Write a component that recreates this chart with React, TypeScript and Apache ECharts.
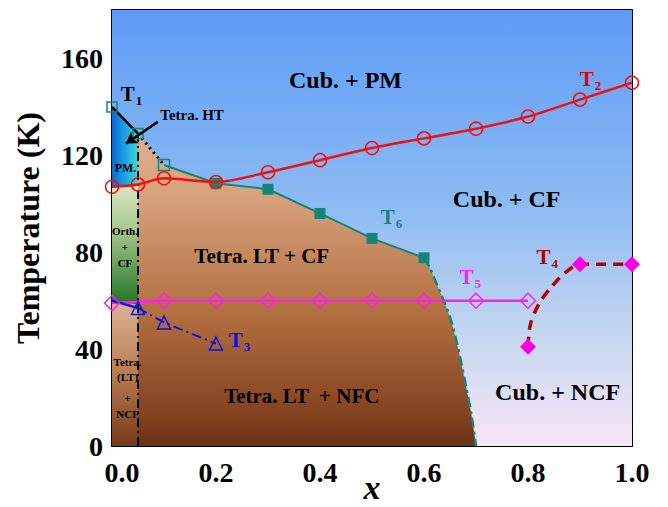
import React, { useEffect, useRef } from "react";
import * as echarts from "echarts";

const FONT = '"Liberation Serif", "Times New Roman", serif';

// ---- transition lines (x, temperature in K) ----
const t2Points: number[][] = [
  [0, 107], [0.05, 108], [0.1, 110.5], [0.2, 109], [0.3, 113], [0.4, 118],
  [0.5, 123], [0.6, 127], [0.7, 131], [0.8, 136], [0.9, 143], [1.0, 150],
];
const t1Points: number[][] = [[0, 140], [0.05, 129]];
const t1Dotted: number[][] = [[0.05, 129], [0.1, 116]];
const t6Points: number[][] = [[0.1, 116], [0.2, 108.5], [0.3, 106], [0.4, 96], [0.5, 85.7], [0.6, 77.7]];
const t6Boundary: number[][] = [
  [0.6, 77.7], [0.611, 73.7], [0.624, 67.1], [0.639, 59.5], [0.652, 51.9],
  [0.662, 43.7], [0.672, 34], [0.681, 24.4], [0.691, 13.4], [0.7, 0],
];
const t5Points: number[][] = [
  [0, 59], [0.1, 60], [0.2, 60], [0.3, 60], [0.4, 60], [0.5, 60], [0.6, 60], [0.7, 60], [0.8, 60],
];
const t3Solid: number[][] = [[0, 60], [0.05, 57]];
const t3Points: number[][] = [[0.05, 57], [0.1, 51], [0.2, 42.3]];
// measured T4 points and the traced course of the dashed curve between them
const t4Points: number[][] = [[0.8, 41], [0.9, 75], [1.0, 75]];
const t4Curve: number[][] = [
  [0.8, 41], [0.805, 50.6], [0.822, 59], [0.845, 65.7], [0.87, 71.3], [0.9, 75], [1.0, 75],
];
const structuralBoundary: number[][] = [[0.05, 0], [0.05, 129]];
const arrowLine: number[][] = [[0.088, 133.8], [0.027, 124.9]];

// ---- phase regions ----
const backgroundRegion: number[][] = [[0, 0], [1, 0], [1, 180], [0, 180]];
const tetraRegion: number[][] = [[0.05, 0], ...t1Dotted, ...t6Points.slice(1), ...t6Boundary.slice(1)];
const tetraLowRegion: number[][] = [[0, 0], [0, 59.5], [0.05, 58.5], [0.05, 0]];
const orthRegion: number[][] = [[0, 59.5], [0.05, 58.5], [0.05, 108], [0, 107]];
const pmRegion: number[][] = [[0, 107], [0.05, 108], [0.05, 129], [0, 140]];

// ---- text annotations ----
type Note = { x: number; y: number; text: string; size: number; color: string };
const notes: Note[] = [
  { x: 0.449, y: 151, text: "Cub. + PM", size: 24, color: "#000" },
  { x: 0.759, y: 101.8, text: "Cub. + CF", size: 24, color: "#000" },
  { x: 0.857, y: 22.2, text: "Cub. + NCF", size: 24, color: "#000" },
  { x: 0.288, y: 78.4, text: "Tetra. LT + CF", size: 21, color: "#000" },
  { x: 0.365, y: 20.5, text: "Tetra. LT  + NFC", size: 21, color: "#000" },
  { x: 0.154, y: 136.6, text: "Tetra. HT", size: 15, color: "#000" },
  { x: 0.026, y: 114.6, text: "PM.", size: 12, color: "#000" },
  { x: 0.025, y: 88.7, text: "Orth.", size: 11, color: "#000" },
  { x: 0.025, y: 82.3, text: "+", size: 11, color: "#000" },
  { x: 0.025, y: 75.4, text: "CF", size: 11, color: "#000" },
  { x: 0.03, y: 34.6, text: "Tetra.", size: 11, color: "#000" },
  { x: 0.03, y: 28.3, text: "(LT)", size: 11, color: "#000" },
  { x: 0.03, y: 19.7, text: "+", size: 11, color: "#000" },
  { x: 0.03, y: 13.1, text: "NCF", size: 11, color: "#000" },
];
type Label = { x: number; y: number; idx: string; color: string };
const tLabels: Label[] = [
  { x: 0.0375, y: 145.3, idx: "1", color: "#000" },
  { x: 0.92, y: 151.4, idx: "2", color: "#E00000" },
  { x: 0.245, y: 43.7, idx: "3", color: "#1010D0" },
  { x: 0.837, y: 78, idx: "4", color: "#B00000" },
  { x: 0.689, y: 69.7, idx: "5", color: "#FF20F0" },
  { x: 0.5375, y: 94.4, idx: "6", color: "#13857B" },
];

const RED = "#F01010";
const TEAL = "#13857B";
const MAGENTA = "#FF20F0";
const BLUE = "#1010E0";
const DARKRED = "#B80000";

const grad = (x2: number, y2: number, stops: [number, string][]) =>
  new echarts.graphic.LinearGradient(0, 0, x2, y2, stops.map(([offset, color]) => ({ offset, color })));

function regionSeries(name: string, pts: number[][], fill: any, z: number) {
  return {
    type: "custom",
    name,
    coordinateSystem: "cartesian2d",
    silent: true,
    z,
    data: [pts[0]],
    renderItem: (_p: any, api: any) => ({
      type: "polygon",
      shape: { points: pts.map((p) => api.coord(p)) },
      style: { fill },
    }),
  };
}

const axisCommon = {
  axisLine: { show: true, onZero: false, lineStyle: { color: "#000", width: 2 } },
  axisTick: { show: true, inside: true, length: 6, lineStyle: { color: "#000", width: 1.5 } },
  splitLine: { show: false },
};

export default function App() {
  const ref = useRef<HTMLDivElement>(null);

  useEffect(() => {
    if (!ref.current) return;
    const chart = echarts.init(ref.current, undefined, { renderer: "svg" });

    const hollow = (color: string) => ({ color: "rgba(0,0,0,0)", borderColor: color, borderWidth: 1.5 });
    const isMeasured = (p: number[]) => t4Points.some((q) => q[0] === p[0] && q[1] === p[1]);

    const option: any = {
      animation: false,
      grid: { left: 112, right: 36, top: 10, bottom: 61, containLabel: false, outerBoundsMode: "none" },
      xAxis: [
        {
          type: "value", min: 0, max: 1, interval: 0.1, position: "bottom", ...axisCommon,
          axisLabel: {
            margin: 12,
            fontSize: 28, fontWeight: "bold", fontFamily: FONT, color: "#000",
            formatter: (v: number) => {
              const k = Math.round(v * 10);
              if (k % 2) return "";
              if (k === 0) return "{z|0.0}";
              return (k / 10).toFixed(1);
            },
            rich: { z: { padding: [0, 0, 0, 20], fontSize: 28, fontWeight: "bold", fontFamily: FONT, color: "#000" } },
          },
          name: "x", nameLocation: "middle", nameGap: 24, nameMoveOverlap: false,
          nameTextStyle: { fontSize: 34, fontWeight: "bold", fontStyle: "italic", fontFamily: FONT, color: "#000" },
        },
        {
          type: "value", min: 0, max: 1, interval: 0.1, position: "top", ...axisCommon,
          axisLabel: { show: false },
        },
      ],
      yAxis: [
        {
          type: "value", min: 0, max: 180, interval: 20, position: "left", ...axisCommon,
          axisLabel: {
            margin: 9,
            fontSize: 28, fontWeight: "bold", fontFamily: FONT, color: "#000",
            formatter: (v: number) => (v % 40 === 0 ? String(v) : ""),
          },
          name: "Temperature (K)", nameLocation: "middle", nameGap: 68, nameRotate: 90,
          nameTextStyle: { fontSize: 32, fontWeight: "bold", fontFamily: FONT, color: "#000" },
        },
        {
          type: "value", min: 0, max: 180, interval: 20, position: "right", ...axisCommon,
          axisLabel: { show: false },
        },
      ],
      series: [
        regionSeries("background", backgroundRegion,
          grad(0, 1, [[0, "#5E9CF7"], [0.45, "#8DBBF3"], [0.75, "#C6D7F0"], [1, "#F8E6F6"]]), 1),
        regionSeries("tetra", tetraRegion,
          grad(0, 1, [[0, "#DDAE8C"], [0.2, "#D6A27C"], [0.57, "#B37040"], [0.9, "#834220"], [1, "#6A3216"]]), 2),
        regionSeries("tetraLow", tetraLowRegion,
          grad(0, 1, [[0, "#DCB394"], [0.5, "#B97C52"], [1, "#74391A"]]), 2),
        regionSeries("orth", orthRegion,
          grad(0, 1, [[0, "#DCE8C6"], [0.4, "#A2C588"], [1, "#237526"]]), 2),
        regionSeries("pm", pmRegion,
          grad(1, 0, [[0, "#0A68D4"], [0.5, "#1EA2E2"], [1, "#3ADCD6"]]), 2),
        {
          type: "line", name: "boundary", data: structuralBoundary, symbol: "none", z: 3,
          lineStyle: { color: "#000", width: 2, type: [9, 4, 2, 4] },
        },
        {
          type: "line", name: "T1", data: t1Points, symbol: "rect", symbolSize: 10, z: 4,
          lineStyle: { color: "#000", width: 2.5 }, itemStyle: hollow(TEAL),
        },
        {
          type: "line", name: "T1 dotted", data: t1Dotted, symbol: "none", z: 4,
          lineStyle: { color: "#000", width: 3, type: [2, 4] },
        },
        {
          type: "line", name: "T6", z: 4, symbol: "rect", symbolSize: 11,
          data: t6Points.map((p, i) => (i === 0 ? { value: p, itemStyle: hollow(TEAL) } : { value: p })),
          lineStyle: { color: TEAL, width: 2 }, itemStyle: { color: TEAL },
        },
        {
          type: "line", name: "T6 boundary", data: t6Boundary, symbol: "none", z: 4, smooth: 0.3,
          lineStyle: { color: TEAL, width: 2.5, type: [10, 4, 3, 4] },
        },
        {
          type: "line", name: "T2", data: t2Points, symbol: "circle", symbolSize: 13, smooth: 0.3, z: 5,
          lineStyle: { color: RED, width: 2.5 }, itemStyle: hollow(RED),
        },
        {
          type: "line", name: "T5", data: t5Points, symbol: "diamond", symbolSize: 15, z: 5,
          lineStyle: { color: MAGENTA, width: 2.5 }, itemStyle: hollow(MAGENTA),
        },
        {
          type: "line", name: "T3 solid", data: t3Solid, symbol: "none", z: 5,
          lineStyle: { color: BLUE, width: 2.5 },
        },
        {
          type: "line", name: "T3", data: t3Points, symbol: "triangle", symbolSize: 13, z: 5,
          lineStyle: { color: BLUE, width: 2, type: [10, 4, 2, 4] }, itemStyle: hollow(BLUE),
        },
        {
          type: "line", name: "T4", z: 5, smooth: 0.3, symbolSize: 16, showAllSymbol: true,
          data: t4Curve.map((p) => (isMeasured(p) ? { value: p, symbol: "diamond" } : { value: p, symbol: "none" })),
          lineStyle: { color: DARKRED, width: 3.5, type: [10, 7] }, itemStyle: { color: "#FF00E0" },
        },
        {
          type: "lines", coordinateSystem: "cartesian2d", z: 6, silent: true,
          symbol: ["none", "arrow"], symbolSize: 11,
          lineStyle: { color: "#000", width: 2.5, opacity: 1 },
          data: [{ coords: arrowLine }],
        },
        {
          type: "custom", name: "notes", coordinateSystem: "cartesian2d", z: 7, silent: true,
          data: notes.map((n) => [n.x, n.y]),
          renderItem: (params: any, api: any) => {
            const n = notes[params.dataIndex];
            const [px, py] = api.coord([n.x, n.y]);
            return {
              type: "text", x: px, y: py,
              style: {
                text: n.text, fill: n.color, align: "center", verticalAlign: "middle",
                fontSize: n.size, fontWeight: "bold", fontFamily: FONT,
              },
            };
          },
        },
        {
          type: "custom", name: "T labels", coordinateSystem: "cartesian2d", z: 7, silent: true,
          data: tLabels.map((l) => [l.x, l.y]),
          renderItem: (params: any, api: any) => {
            const l = tLabels[params.dataIndex];
            const [px, py] = api.coord([l.x, l.y]);
            return {
              type: "text", x: px, y: py,
              style: {
                text: `{t|T}{s|${l.idx}}`, fill: l.color, align: "center", verticalAlign: "middle",
                fontSize: 21, fontWeight: "bold", fontFamily: FONT,
                rich: {
                  t: { fontSize: 21, fontWeight: "bold", fontFamily: FONT, fill: l.color },
                  s: { fontSize: 13, fontWeight: "bold", fontFamily: FONT, fill: l.color, padding: [12, 0, 0, 1] },
                },
              },
            };
          },
        },
      ],
    };

    chart.setOption(option);
    return () => chart.dispose();
  }, []);

  return (
    <div
      ref={ref}
      style={{ position: "fixed", left: 0, top: 0, width: 668, height: 507, background: "#fff" }}
    />
  );
}
